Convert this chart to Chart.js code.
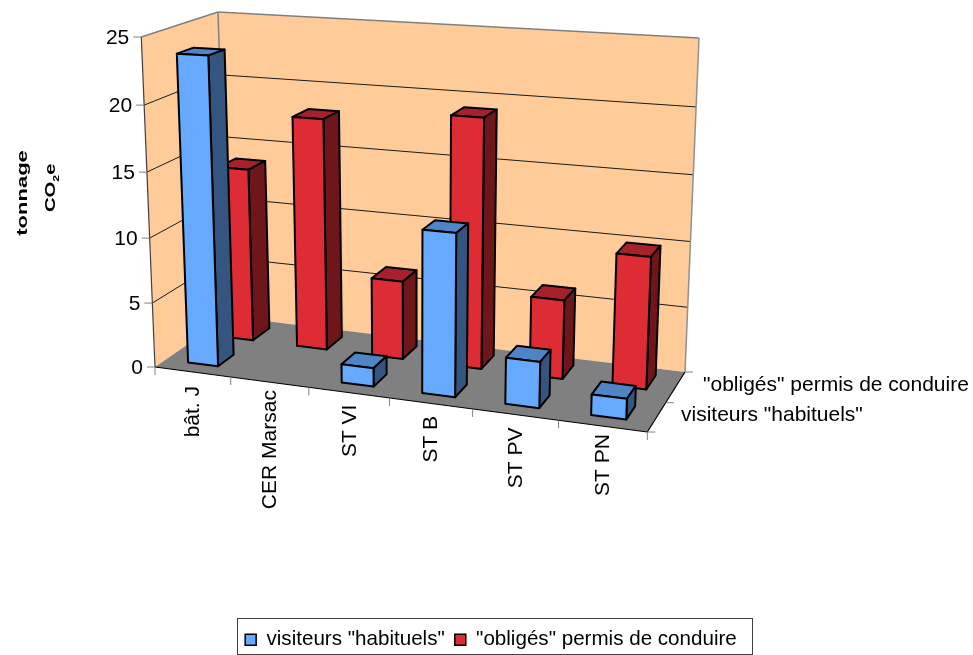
<!DOCTYPE html>
<html>
<head>
<meta charset="utf-8">
<title>tonnage CO2e</title>
<script src="https://cdn.jsdelivr.net/npm/chart.js@4"></script>
<style>
    html, body { margin: 0; padding: 0; background: #fff; }
    canvas { display: block; }
</style>
</head>
<body>
<canvas id="co2Chart" width="973" height="655"></canvas>
<script>
const categories = ['bât. J', 'CER Marsac', 'ST VI', 'ST B', 'ST PV', 'ST PN'];
const visiteursHabituels = [23.6, 0, 1.4, 12.1, 3.4, 1.5];
const obligesPermis = [13.7, 18.1, 6.1, 19.1, 6.0, 9.9];
const seriesNames = ['visiteurs "habituels"', '"obligés" permis de conduire'];
const yTickStep = 5;
const yMax = 25;

// coins de la boite 3D : [gauche/droite][bas/haut][avant/arriere]
const box = {
    lbf: [155, 367], lbb: [228, 316.5], ltf: [141.3, 37], ltb: [218, 12],
    rbf: [647.3, 432], rbb: [685, 372], rtf: [660, 67], rtb: [699, 38]
};
const seriesDepth = [0.27, 0.78];
const barDepth = 0.23;
const labelDy = [15, 9, 13, 13.5, 14, 9];
const FONT = '"Liberation Sans", Arial, sans-serif';

function persp(t, k) { return t / (t + (1 - t) * k); }
function mix(a, b, t) { return [a[0] + (b[0] - a[0]) * t, a[1] + (b[1] - a[1]) * t]; }

// u, v, z entre 0 et 1 -> position sur le canvas
function project(u, v, z) {
    const pu = persp(u, 1.1), pv = persp(v, 1.04), pz = persp(z, 1.05);
    const bf = mix(box.lbf, box.rbf, pu), bb = mix(box.lbb, box.rbb, pu);
    const tf = mix(box.ltf, box.rtf, pu), tb = mix(box.ltb, box.rtb, pu);
    return mix(mix(bf, bb, pz), mix(tf, tb, pz), pv);
}

function quad(ctx, pts, fill, stroke, lw) {
    ctx.beginPath();
    pts.forEach((p, i) => i ? ctx.lineTo(p[0], p[1]) : ctx.moveTo(p[0], p[1]));
    ctx.closePath();
    if (fill) { ctx.fillStyle = fill; ctx.fill(); }
    if (stroke) { ctx.strokeStyle = stroke; ctx.lineWidth = lw; ctx.stroke(); }
}

function line(ctx, a, b, color, lw) {
    ctx.beginPath();
    ctx.moveTo(a[0], a[1]);
    ctx.lineTo(b[0], b[1]);
    ctx.strokeStyle = color;
    ctx.lineWidth = lw;
    ctx.stroke();
}

function drawFrame(chart) {
    const ctx = chart.ctx, yS = chart.scales.y;
    // murs et sol
    quad(ctx, [box.lbf, box.ltf, box.ltb, box.lbb], '#FFCC99');
    quad(ctx, [box.lbb, box.ltb, box.rtb, box.rbb], '#FFCC99');
    quad(ctx, [box.lbf, box.lbb, box.rbb, box.rbf], '#808080');
    // lignes de grille
    yS.ticks.forEach(t => {
        if (t.value === 0 || t.value === yMax) return;
        const v = (yS.bottom - yS.getPixelForValue(t.value)) / yS.height;
        line(ctx, project(0, v, 0), project(0, v, 1), '#1a1a1a', 1);
        line(ctx, project(0, v, 1), project(1, v, 1), '#1a1a1a', 1);
    });
    // bords gris
    line(ctx, box.ltf, box.ltb, '#808080', 1.5);
    line(ctx, box.ltb, box.rtb, '#808080', 1.5);
    line(ctx, box.rtb, box.rbb, '#909090', 1.5);
    line(ctx, box.ltb, box.lbb, '#808080', 1.5);
    // axes
    line(ctx, box.lbf, box.ltf, '#404040', 1.2);
    line(ctx, box.lbf, box.rbf, '#000', 1.2);
    line(ctx, box.rbf, box.rbb, '#000', 1.2);
    // graduations et textes de l'axe Y
    ctx.fillStyle = '#000';
    ctx.font = '21px ' + FONT;
    ctx.textAlign = 'right';
    ctx.textBaseline = 'middle';
    yS.ticks.forEach(t => {
        const v = (yS.bottom - yS.getPixelForValue(t.value)) / yS.height;
        const p = project(0, v, 0);
        line(ctx, [p[0] - 8, p[1]], p, '#808080', 1);
        ctx.fillStyle = '#000';
        ctx.fillText(String(t.value), p[0] - 12, p[1] + 1);
    });
    // graduations X
    categories.forEach((c, i) => {
        const p = project((i + 1) / categories.length, 0, 0);
        line(ctx, p, [p[0], p[1] + 8], '#808080', 1);
    });
    line(ctx, box.lbf, [box.lbf[0], box.lbf[1] + 8], '#808080', 1);
    // graduations profondeur
    [0, 0.5, 1].forEach(z => {
        const p = project(1, 0, z);
        line(ctx, p, [p[0] + 8, p[1]], '#808080', 1);
    });
    // noms de series
    ctx.fillStyle = '#000';
    ctx.textAlign = 'left';
    ctx.fillText(seriesNames[1], 703, 385);
    ctx.fillText(seriesNames[0], 681, 415);
    // categories verticales
    const xS = chart.scales.x;
    ctx.textAlign = 'right';
    categories.forEach((c, i) => {
        const u = (xS.getPixelForValue(i) - xS.left) / xS.width;
        const p = project(u, 0, 0);
        ctx.save();
        ctx.translate(p[0], p[1] + labelDy[i] - 1);
        ctx.rotate(-Math.PI / 2);
        ctx.fillStyle = '#000';
        ctx.fillText(c, 0, 1);
        ctx.restore();
    });
    drawAxisTitle(ctx);
}

function drawAxisTitle(ctx) {
    ctx.save();
    ctx.fillStyle = '#000';
    ctx.textBaseline = 'middle';
    ctx.font = 'bold 15px ' + FONT;
    // le titre est etire dans le sens de la lecture
    ctx.save();
    ctx.translate(23, 193);
    ctx.rotate(-Math.PI / 2);
    ctx.scale(1.47, 1);
    ctx.textAlign = 'center';
    ctx.fillText('tonnage', 0, 0);
    ctx.restore();
    ctx.translate(51, 212);
    ctx.rotate(-Math.PI / 2);
    ctx.scale(1.35, 1);
    ctx.textAlign = 'left';
    ctx.fillText('CO', 0, 0);
    let w = ctx.measureText('CO').width;
    ctx.font = 'bold 9px ' + FONT;
    ctx.fillText('2', w, 6);
    w += ctx.measureText('2').width;
    ctx.font = 'bold 15px ' + FONT;
    ctx.fillText('e', w, 0);
    ctx.restore();
}

function drawBar(ctx, chart, bar, depth, colors) {
    const xS = chart.scales.x, yS = chart.scales.y;
    const u0 = (bar.x - bar.width / 2 - xS.left) / xS.width;
    const u1 = (bar.x + bar.width / 2 - xS.left) / xS.width;
    const v0 = (yS.bottom - bar.base) / yS.height;
    const v1 = (yS.bottom - bar.y) / yS.height;
    const z0 = depth - barDepth / 2, z1 = depth + barDepth / 2;
    ctx.lineJoin = 'round';
    quad(ctx, [project(u0, v1, z0), project(u1, v1, z0), project(u1, v1, z1), project(u0, v1, z1)], colors[2], '#000', 2);
    quad(ctx, [project(u1, v0, z0), project(u1, v0, z1), project(u1, v1, z1), project(u1, v1, z0)], colors[1], '#000', 2);
    quad(ctx, [project(u0, v0, z0), project(u1, v0, z0), project(u1, v1, z0), project(u0, v1, z0)], colors[0], '#000', 2);
}

// Chart.js calcule les barres, on les dessine en perspective
const bars3d = {
    id: 'bars3d',
    beforeDatasetsDraw(chart) {
        const ctx = chart.ctx;
        ctx.save();
        drawFrame(chart);
        [1, 0].forEach(ds => {
            const dataset = chart.data.datasets[ds];
            chart.getDatasetMeta(ds).data.forEach((bar, i) => {
                if (dataset.data[i] > 0) drawBar(ctx, chart, bar, seriesDepth[ds], dataset.faces);
            });
        });
        ctx.restore();
        return false;
    },
    afterDraw(chart) {
        const hb = chart.legend.legendHitBoxes;
        if (!hb || !hb.length) return;
        const ctx = chart.ctx;
        const left = hb[0].left - 8, right = hb[hb.length - 1].left + hb[hb.length - 1].width + 15;
        ctx.save();
        ctx.strokeStyle = '#404040';
        ctx.lineWidth = 1;
        ctx.strokeRect(Math.round(left) + 0.5, 618.5, Math.round(right - left), 36);
        ctx.restore();
    }
};

new Chart(document.getElementById('co2Chart'), {
    type: 'bar',
    data: {
        labels: categories,
        datasets: [{
            label: seriesNames[0],
            data: visiteursHabituels,
            backgroundColor: '#66AAFF',
            borderColor: '#000',
            borderWidth: 1.5,
            faces: ['#66AAFF', '#33557F', '#4F85C7']
        }, {
            label: seriesNames[1],
            data: obligesPermis,
            backgroundColor: '#DD2C33',
            borderColor: '#000',
            borderWidth: 1.5,
            faces: ['#DD2C33', '#6F161A', '#A6212A']
        }]
    },
    plugins: [bars3d],
    options: {
        responsive: false,
        animation: false,
        events: [],
        grouped: false,
        categoryPercentage: 0.4,
        barPercentage: 1,
        layout: { padding: { left: 159, right: 150, top: 30, bottom: -5 } },
        plugins: {
            title: { display: false },
            tooltip: { enabled: false },
            legend: {
                display: true,
                position: 'bottom',
                labels: {
                    color: '#000',
                    boxWidth: 11,
                    boxHeight: 11,
                    padding: 10,
                    font: { family: FONT, size: 20.6 }
                }
            }
        },
        scales: {
            x: { display: false },
            y: { display: false, min: 0, max: yMax, ticks: { stepSize: yTickStep } }
        }
    }
});
</script>
</body>
</html>
